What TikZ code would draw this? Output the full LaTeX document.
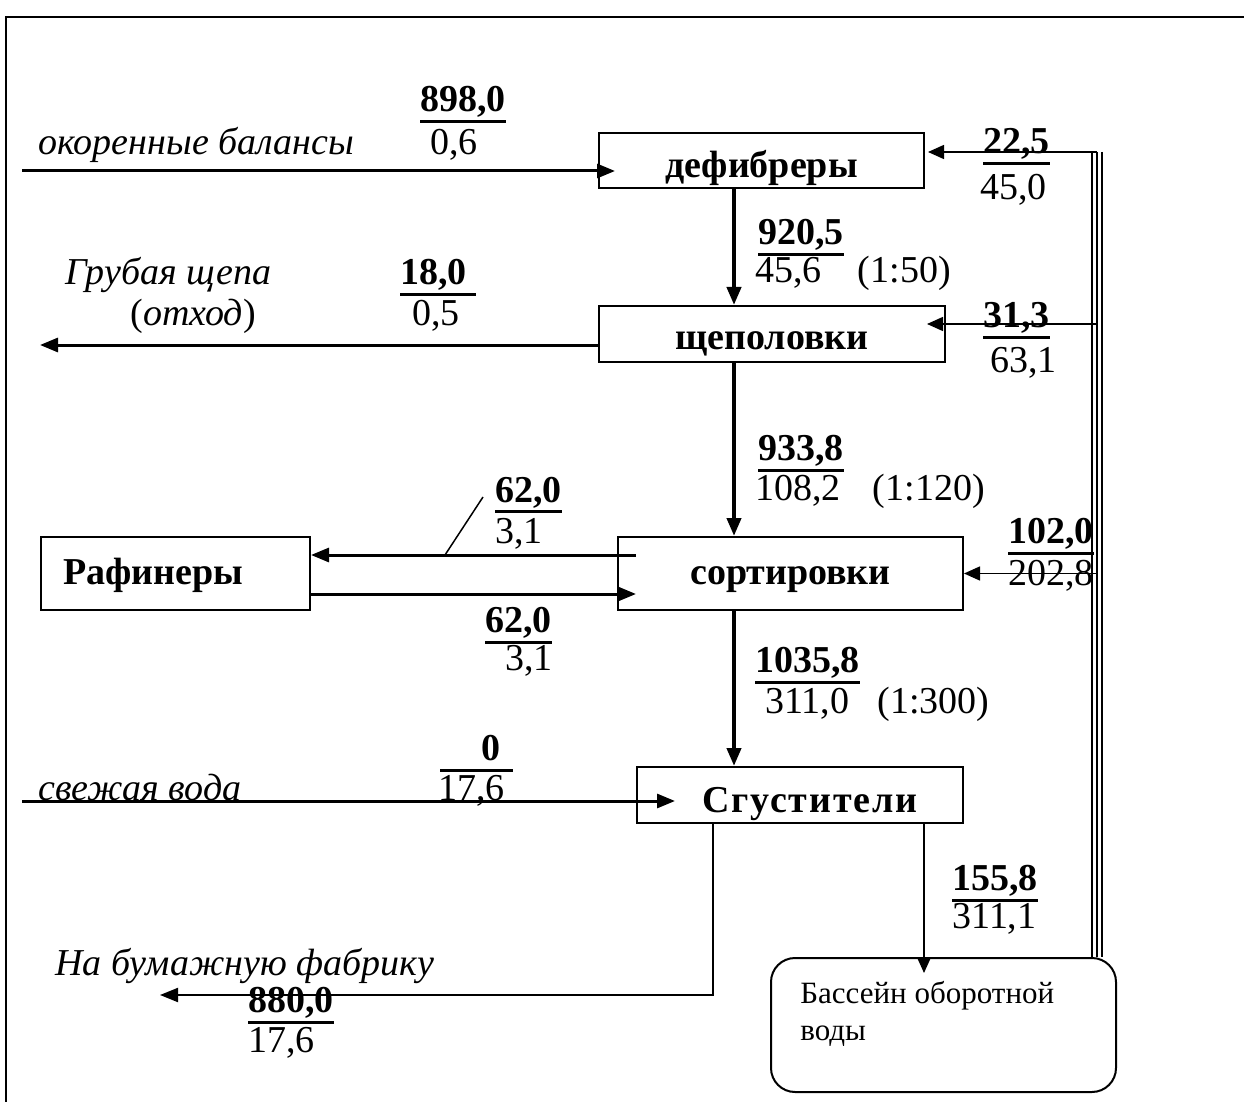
\documentclass[tikz,border=0pt]{standalone}
\usepackage{fontspec}
\setmainfont{Liberation Serif}
\usepackage{tikz}
\usetikzlibrary{calc, arrows.meta}
\newcommand{\uval}[1]{\setbox0\hbox{\bfseries #1}\rlap{\rule[-5.75pt]{\wd0}{1.5pt}}\box0}

\begin{document}
\begin{tikzpicture}[x=0.5pt, y=-0.5pt, font=\fontsize{19}{22}\selectfont,
            box/.style={draw, line width=1pt, font=\fontsize{19}{22}\selectfont\bfseries, text depth=0pt, inner sep=0pt},
            lbl/.style={anchor=base west, inner sep=0pt},
            flow/.style={line width=1.5pt, -{Triangle[length=9pt, width=7pt]}},
            main/.style={line width=2pt, -{Triangle[length=9pt, width=7pt]}},
            back/.style={line width=0.75pt, -{Triangle[length=8pt, width=7pt]}}]
            \useasboundingbox (0,0) rectangle (1244,1102);
            \draw[line width=1.2pt] (1244,17) -- (6,17) -- (6,1102);
            \node[box, minimum width=162.5pt, minimum height=27.5pt, text height=17.5pt] (def) at (761.5,160.5) {дефибреры};
            \node[box, minimum width=173pt, minimum height=28pt, text height=16pt] (shch) at (772,334) {щеполовки};
            \node[box, minimum width=134.5pt, minimum height=36.5pt, text height=10.5pt, text width=112.5pt, align=left] (raf) at (175.5,573.5) {Рафинеры};
            \node[box, minimum width=172.5pt, minimum height=36.5pt, text height=10.5pt] (sort) at (790.5,573.5) {сортировки};
            \node[box, minimum width=163pt, minimum height=28pt, text height=17pt, text width=98pt, align=left] (sgust) at (800,795) {\addfontfeature{LetterSpace=5}Сгустители};
            \node[draw, line width=1pt, rounded corners=12pt, minimum width=172.5pt, minimum height=67pt] (pool) at (943.5,1025) {};
            \node[lbl, font=\fontsize{15.5}{18}\selectfont] (pool1) at (800,1003) {Бассейн оборотной};
            \node[lbl, font=\fontsize{15.5}{18}\selectfont] (pool2) at (800,1040) {воды};
            \coordinate (vx) at (734,0);
            \coordinate (inBal) at (22,171);
            \coordinate (outChip) at (40,345);
            \coordinate (inWater) at (22,801);
            \coordinate (outPaper) at (160,995);
            \coordinate (tick) at (483,497);
            \coordinate (ret) at (1097,152);
            \coordinate (ret2) at (1097,324);
            \draw[main] (def.south -| vx) -- (shch.north -| vx);
            \draw[main] (shch.south -| vx) -- (sort.north -| vx);
            \draw[main] (sort.south -| vx) -- (sgust.north -| vx);
            \draw[flow] (inBal) -- ($(def.west |- inBal)+(17,0)$);
            \draw[flow] (shch.west |- outChip) -- (outChip);
            \draw[flow] ($(sort.west)+(19,-18.5)$) -- ($(raf.east)+(0,-18.5)$);
            \draw[flow] ($(raf.east)+(0,20.5)$) -- ($(sort.west)+(19,20.5)$);
            \draw[line width=0.75pt] (445,555) -- (tick);
            \draw[flow] (inWater) -- ($(sgust.west |- inWater)+(39,0)$);
            \draw[line width=1pt, -{Triangle[length=9pt, width=7pt]}] ($(sgust.south west)+(77,0)$) |- (outPaper);
            \draw[back] ($(sgust.south west)+(288,0)$) -- ($(pool.north west)+(154,16)$);
            \draw[line width=0.75pt] ($(ret)+(-5,0)$) -- ($(ret |- pool.north)+(-5,0)$);
            \draw[line width=1.25pt] (ret) -- (ret |- pool.north);
            \draw[line width=0.75pt] ($(ret)+(5,0)$) -- ($(ret |- pool.north)+(5,0)$);
            \draw[back] (ret) -- ($(def.east |- ret)+(3,0)$);
            \draw[back] (ret2) -- ($(shch.east |- ret2)+(-19,0)$);
            \draw[back] (ret |- sort.east) -- (sort.east);
            \node[lbl] (bal) at (38,155) {\itshape окоренные балансы};
            \node[lbl] (q1) at (420,112) {\uval{898,0}};
            \node[lbl] (c1) at (430,155) {0,6};
            \node[lbl] (q2) at (983,154) {\uval{22,5}};
            \node[lbl] (c2) at (980,199) {45,0};
            \node[lbl] (q3) at (758,245) {\uval{920,5}};
            \node[lbl] (c3) at (755,283) {45,6\hspace{18pt}(1:50)};
            \node[lbl] (chip) at (65,285) {\itshape Грубая щепа};
            \node[lbl] (waste) at (130,325) {(\textit{отход})};
            \node[lbl] (q4) at (400,285) {\uval{18,0\ }};
            \node[lbl] (c4) at (412,325) {0,5};
            \node[lbl] (q5) at (983,328) {\uval{31,3}};
            \node[lbl] (c5) at (990,372) {63,1};
            \node[lbl] (q6) at (758,460) {\uval{933,8}};
            \node[lbl] (c6) at (755,500) {108,2\hspace{16pt}(1:120)};
            \node[lbl] (q7) at (495,502) {\uval{62,0}};
            \node[lbl] (c7) at (495,543) {3,1};
            \node[lbl] (q8) at (1008,543) {\uval{102,0}};
            \node[lbl] (c8) at (1008,585) {202,8};
            \node[lbl] (q9) at (485,632) {\uval{62,0}};
            \node[lbl] (c9) at (505,670) {3,1};
            \node[lbl] (q10) at (755,672) {\uval{1035,8}};
            \node[lbl] (c10) at (765,713) {311,0\hspace{14pt}(1:300)};
            \node[lbl] (water) at (38,800) {\itshape свежая вода};
            \node[lbl] (q11) at (440,760) {\uval{\hspace*{20.5pt}0\hspace*{6.5pt}}};
            \node[lbl] (c11) at (438,800) {17,6};
            \node[lbl] (q12) at (952,890) {\uval{155,8}};
            \node[lbl] (c12) at (952,928) {311,1};
            \node[lbl] (paper) at (55,975) {\itshape На бумажную фабрику};
            \node[lbl] (q13) at (248,1012) {\uval{880,0}};
            \node[lbl] (c13) at (248,1052) {17,6};
        \end{tikzpicture}
\end{document}
